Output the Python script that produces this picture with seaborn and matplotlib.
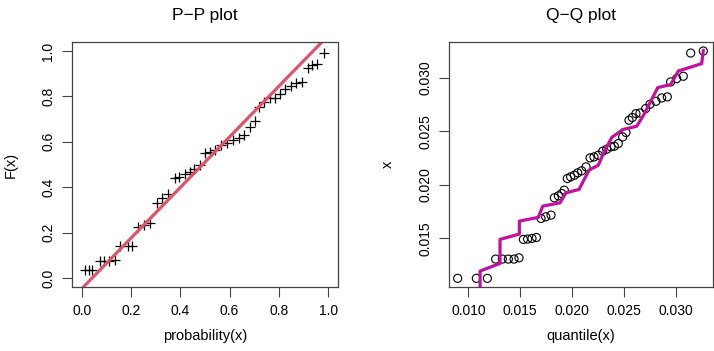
import numpy as np
import pandas as pd
import matplotlib
matplotlib.use("Agg")
import matplotlib.pyplot as plt
import seaborn as sns

# P-P plot data
pp_prob = [0.014, 0.028, 0.042, 0.072, 0.089, 0.112, 0.133, 0.157, 0.187, 0.205,
           0.230, 0.253, 0.275, 0.305, 0.327, 0.350, 0.377, 0.394, 0.417, 0.438,
           0.455, 0.478, 0.500, 0.522, 0.542, 0.566, 0.589, 0.614, 0.637, 0.659,
           0.684, 0.702, 0.718, 0.738, 0.763, 0.783, 0.804, 0.827, 0.851, 0.871,
           0.894, 0.919, 0.936, 0.953, 0.982]
pp_F = [0.034, 0.034, 0.034, 0.076, 0.076, 0.076, 0.081, 0.139, 0.139, 0.142,
        0.224, 0.232, 0.242, 0.330, 0.352, 0.370, 0.440, 0.447, 0.459, 0.469,
        0.479, 0.499, 0.550, 0.557, 0.565, 0.587, 0.597, 0.609, 0.616, 0.630,
        0.667, 0.694, 0.755, 0.777, 0.792, 0.795, 0.811, 0.833, 0.846, 0.858,
        0.865, 0.924, 0.938, 0.941, 0.993]
pp_intercept = -0.047
pp_slope = 1.115

# Q-Q plot data
qq_theo = [0.00897, 0.01077, 0.01183, 0.01263, 0.01327, 0.01385, 0.01440, 0.01488,
           0.01530, 0.01571, 0.01613, 0.01655, 0.01700, 0.01745, 0.01796, 0.01828,
           0.01867, 0.01899, 0.01924, 0.01953, 0.01985, 0.02021, 0.02053, 0.02091,
           0.02133, 0.02172, 0.02210, 0.02252, 0.02294, 0.02332, 0.02374, 0.02406,
           0.02444, 0.02486, 0.02518, 0.02547, 0.02579, 0.02614, 0.02653, 0.02708,
           0.02749, 0.02807, 0.02862, 0.02916, 0.02948, 0.03006, 0.03070, 0.03141,
           0.03263]
qq_x = [0.01127, 0.01127, 0.01127, 0.01307, 0.01307, 0.01307, 0.01307, 0.01319,
        0.01491, 0.01494, 0.01500, 0.01509, 0.01687, 0.01702, 0.01718, 0.01880,
        0.01898, 0.01920, 0.01951, 0.02060, 0.02076, 0.02091, 0.02113, 0.02132,
        0.02169, 0.02253, 0.02262, 0.02278, 0.02315, 0.02334, 0.02356, 0.02362,
        0.02387, 0.02449, 0.02490, 0.02605, 0.02630, 0.02667, 0.02673, 0.02714,
        0.02754, 0.02782, 0.02813, 0.02823, 0.02963, 0.02994, 0.03016, 0.03233,
        0.03252]
line_q = [0.01113, 0.01113, 0.01305, 0.01305, 0.01491, 0.01491, 0.01674, 0.01716,
          0.01883, 0.01938, 0.02066, 0.02162, 0.02252, 0.02307, 0.02381, 0.02487,
          0.02622, 0.02692, 0.02824, 0.02949, 0.03022, 0.03247, 0.03263]
line_x = [0.01043, 0.01195, 0.01267, 0.01491, 0.01541, 0.01662, 0.01697, 0.01802,
          0.01833, 0.01926, 0.01958, 0.02138, 0.02185, 0.02309, 0.02444, 0.02518,
          0.02549, 0.02661, 0.02910, 0.02938, 0.03065, 0.03134, 0.03259]

sns.set_style("white")
plt.rcParams['font.family'] = ['Liberation Sans', 'DejaVu Sans']
plt.rcParams['text.color'] = 'black'
plt.rcParams['axes.labelcolor'] = 'black'
plt.rcParams['xtick.color'] = 'black'
plt.rcParams['ytick.color'] = 'black'

fig = plt.figure(figsize=(7.14, 3.51), dpi=100)
ax1 = fig.add_axes([0.1008, 0.1823, 0.3725, 0.698])
ax2 = fig.add_axes([0.6289, 0.1823, 0.3697, 0.698])

# P-P plot
sns.scatterplot(x=pp_prob, y=pp_F, marker='+', color='black', s=45, linewidth=0.9, ax=ax1)
ax1.axline((0, pp_intercept), slope=pp_slope, color='#DF536B', lw=2.3)
ax1.set_xlim(-0.04, 1.04)
ax1.set_ylim(-0.04, 1.04)
ticks01 = np.arange(0, 1.01, 0.2)
ax1.set_xticks(ticks01)
ax1.set_yticks(ticks01)
ax1.set_xticklabels([f"{v:.1f}" for v in ticks01])
ax1.set_yticklabels([f"{v:.1f}" for v in ticks01])
ax1.set_title("P\u2212P plot", fontsize=12.5, pad=16)
ax1.set_xlabel("probability(x)", fontsize=10.5, labelpad=8)
ax1.set_ylabel("F(x)", fontsize=10.5, labelpad=17)

# Q-Q plot
sns.scatterplot(x=qq_theo, y=qq_x, marker='o', s=34, facecolor='none',
                edgecolor='black', linewidth=0.8, ax=ax2)
sns.lineplot(x=line_q, y=line_x, sort=False, estimator=None, color='#C2109F', lw=2.3, ax=ax2)
ax2.set_xlim(0.00814, 0.03356)
ax2.set_ylim(0.01046, 0.03336)
qt = [0.010, 0.015, 0.020, 0.025, 0.030]
ax2.set_xticks(qt)
ax2.set_xticklabels([f"{v:.3f}" for v in qt])
yt = [0.015, 0.020, 0.025, 0.030]
ax2.set_yticks(yt)
ax2.set_yticklabels([f"{v:.3f}" for v in yt])
ax2.set_title("Q\u2212Q plot", fontsize=12.5, pad=16)
ax2.set_xlabel("quantile(x)", fontsize=10.5, labelpad=8)
ax2.set_ylabel("x", fontsize=10.5, labelpad=17)

for ax in (ax1, ax2):
    for sp in ax.spines.values():
        sp.set_visible(True)
        sp.set_color('#444444')
        sp.set_linewidth(0.9)
    ax.tick_params(direction='out', length=7, width=0.8, color='#444444',
                   labelsize=10, pad=5, bottom=True, left=True)
    for lab in ax.get_yticklabels():
        lab.set_rotation(90)
        lab.set_va('center')

fig.savefig("out.png", dpi=100)
